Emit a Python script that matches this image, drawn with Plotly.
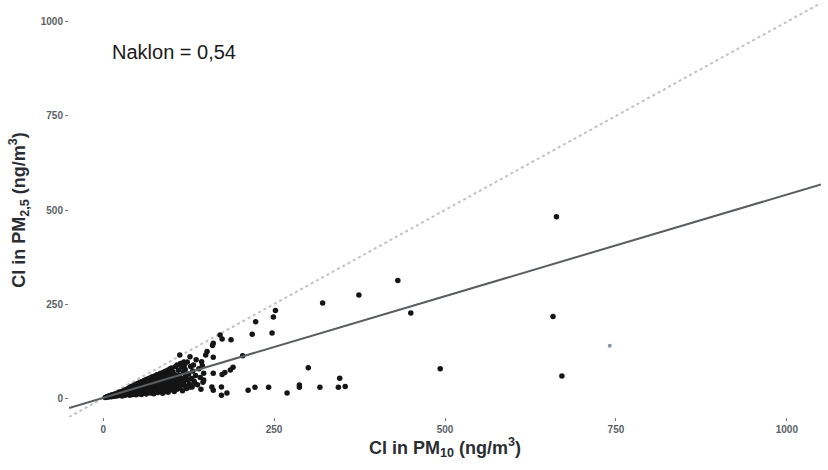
import plotly.graph_objects as go

# Outlying / sparse points (Cl in PM10, Cl in PM2.5), ng/m3
out_x = [663, 658, 671, 493, 431, 450, 374, 321, 300, 269, 287, 287, 317, 346, 344, 354,
         252, 249, 223, 218, 247, 212, 222, 242, 187, 171, 174, 161, 160, 152, 150, 161,
         204, 144, 127, 132, 190, 186, 178, 174, 161, 147, 147, 134, 159, 161, 173, 181,
         173, 127, 120, 119, 112]
out_y = [482, 217, 59, 78, 313, 226, 274, 253, 81, 14, 29, 35, 29, 53, 29, 31,
         233, 216, 203, 170, 173, 21, 29, 29, 155, 168, 157, 146, 140, 124, 115, 109,
         113, 97, 110, 88, 82, 75, 68, 63, 66, 66, 48, 39, 30, 21, 30, 14,
         8, 30, 57, 89, 115]

# Dense cluster near the origin
cl_x = [3, 5, 6, 8, 8, 10, 11, 12, 13, 14, 15, 16, 17, 18, 19, 20, 20, 21, 22, 23, 24, 25, 25,
        26, 27, 28, 28, 29, 30, 30, 31, 32, 32, 33, 34, 34, 35, 35, 36, 36, 37, 38, 38, 39, 39,
        40, 40, 41, 41, 42, 42, 43, 43, 44, 44, 45, 45, 46, 46, 47, 47, 48, 48, 49, 49, 50, 50,
        51, 51, 52, 52, 53, 53, 54, 54, 55, 55, 56, 56, 57, 57, 58, 58, 59, 59, 60, 60, 61, 61,
        62, 62, 63, 63, 64, 64, 65, 65, 66, 66, 67, 67, 68, 68, 69, 69, 70, 70, 71, 71, 72, 72,
        73, 73, 74, 74, 75, 75, 76, 76, 77, 77, 78, 78, 79, 79, 80, 80, 81, 81, 82, 82, 83, 83,
        84, 84, 85, 85, 86, 86, 87, 87, 88, 88, 89, 89, 90, 90, 91, 91, 92, 92, 93, 94, 94, 95,
        95, 96, 97, 97, 98, 98, 99, 100, 100, 101, 102, 102, 104, 104, 105, 106, 106, 107,
        108, 108, 109, 110, 110, 111, 112, 113, 114, 115, 115, 116, 117, 118, 118, 119,
        120, 121, 122, 123, 124, 125, 126, 128, 129, 130, 131, 133, 135, 136, 138, 140, 142,
        143, 145, 146]
cl_y = [2, 3, 4, 3, 6, 5, 7, 4, 9, 6, 8, 5, 11, 7, 9, 6, 13, 10, 8, 15, 11, 7, 17,
        13, 9, 16, 6, 19, 11, 14, 21, 8, 17, 12, 23, 19, 10, 15, 25, 21, 13, 27, 17, 8, 23,
        12, 30, 19, 26, 15, 32, 10, 22, 29, 17, 34, 13, 24, 32, 19, 36, 9, 27, 15, 35, 22, 39,
        18, 30, 12, 38, 25, 41, 16, 33, 21, 42, 28, 10, 44, 36, 19, 24, 45, 31, 14, 47, 27, 39,
        20, 48, 33, 11, 50, 25, 42, 17, 36, 51, 22, 29, 53, 45, 14, 38, 26, 55, 32, 19, 48, 57,
        23, 41, 35, 12, 58, 28, 50, 17, 44, 60, 31, 22, 62, 39, 15, 53, 27, 63, 46, 35, 20, 58,
        41, 66, 30, 24, 65, 50, 13, 37, 68, 56, 28, 44, 70, 18, 33, 62, 48, 72, 25, 54, 40, 75,
        16, 30, 66, 46, 78, 22, 58, 36, 80, 50, 27, 70, 42, 18, 62, 33, 84, 55,
        24, 88, 46, 74, 38, 60, 28, 92, 52, 40, 82, 20, 68, 96, 45, 34,
        76, 58, 26, 96, 48, 64, 38, 84, 52, 30, 72, 45, 60, 102, 36, 78, 55,
        24, 86, 42]

# Faint grey point
grey_x = [741]
grey_y = [139]

# Regression line and 1:1 reference
fit_slope = 0.54
fit_intercept = 1
line_x = [-50, 1050]
ref_slope = 1.0

x_ticks = [0, 250, 500, 750, 1000]
y_ticks = [0, 250, 500, 750, 1000]
annot_text = "Naklon = 0,54"

fig = go.Figure()

fig.add_trace(go.Scatter(
    x=line_x, y=[ref_slope * v for v in line_x], mode="lines",
    line=dict(color="#bfc3c7", width=2, dash="dot"), hoverinfo="skip"))

fig.add_trace(go.Scatter(
    x=cl_x + out_x, y=cl_y + out_y, mode="markers",
    marker=dict(color="#151515", size=5.5, line=dict(width=0))))

fig.add_trace(go.Scatter(
    x=grey_x, y=grey_y, mode="markers",
    marker=dict(color="#8a96a0", size=4, line=dict(width=0))))

fig.add_trace(go.Scatter(
    x=line_x, y=[fit_slope * v + fit_intercept for v in line_x], mode="lines",
    line=dict(color="#5a5d60", width=2), hoverinfo="skip"))

fig.add_annotation(x=10, y=920, text=annot_text, showarrow=False,
                   xanchor="left", yanchor="middle",
                   font=dict(family="Arial, Liberation Sans", size=20, color="#1a1a1a"))

tick_font = dict(family="Arial, Liberation Sans", size=10, color="#5a5f66", weight=700)
title_font = dict(family="Arial, Liberation Sans", size=18, color="#2a2e33", weight=700)

fig.update_xaxes(range=[-50, 1050], tickvals=x_ticks, showgrid=False, zeroline=False,
                 showline=False, ticks="outside", ticklen=3, tickcolor="#777",
                 tickfont=tick_font, automargin=False,
                 title=dict(text="Cl in PM<sub>10</sub> (ng/m<sup>3</sup>)", font=title_font,
                            standoff=4))
fig.update_yaxes(range=[-50, 1050], tickvals=y_ticks, showgrid=False, zeroline=False,
                 showline=False, ticks="outside", ticklen=3, tickcolor="#777",
                 tickfont=tick_font, automargin=False,
                 title=dict(text="Cl in PM<sub>2,5</sub> (ng/m<sup>3</sup>)", font=title_font,
                            standoff=10))

fig.update_layout(
    width=828, height=470,
    margin=dict(l=69, r=7, t=3, b=53),
    paper_bgcolor="white", plot_bgcolor="white",
    showlegend=False,
)

fig.write_html("out.html", config={"displayModeBar": False},
               post_script="document.body.style.margin='0';document.body.style.padding='0';")
